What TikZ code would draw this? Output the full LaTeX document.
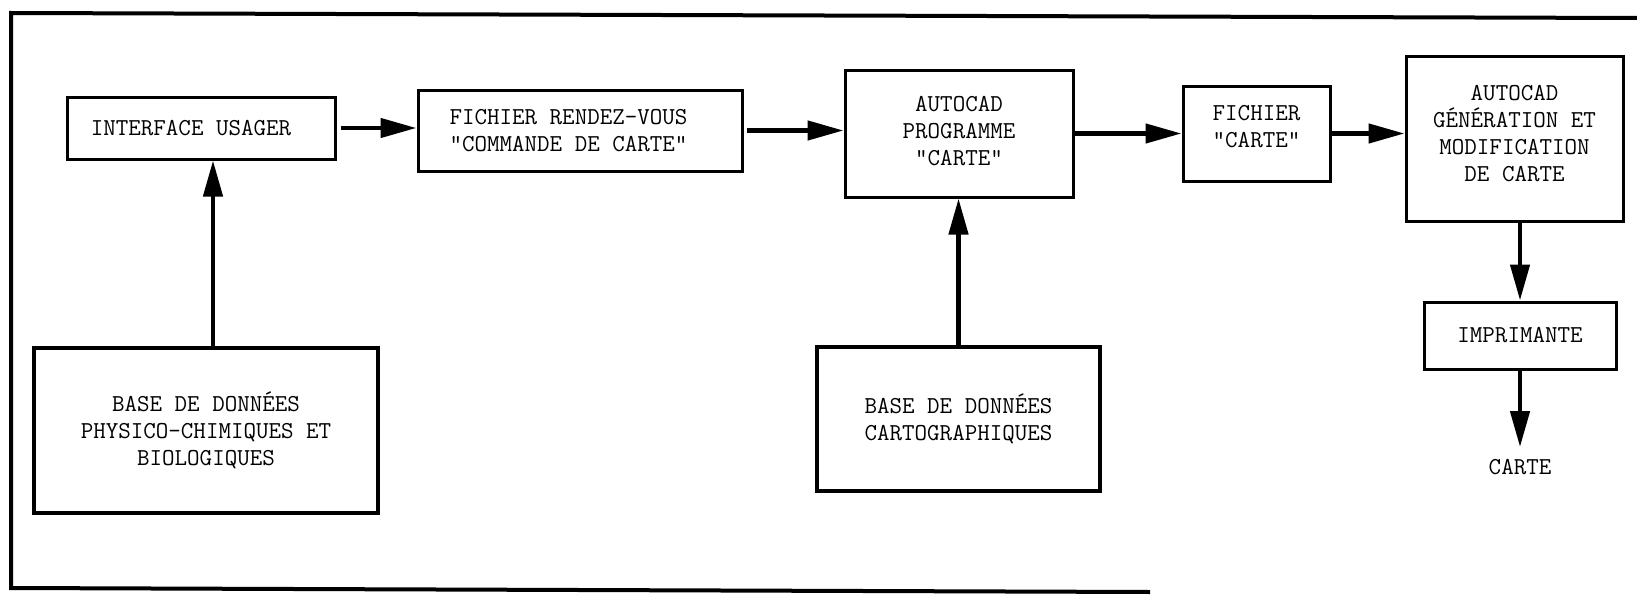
\documentclass[tikz,border=0pt]{standalone}
\usepackage{fontspec}
\usetikzlibrary{arrows.meta}
\begin{document}
\begin{tikzpicture}[x=1pt,y=-1pt,
  box/.style={draw, line width=3pt, inner sep=0pt, align=center, font=\ttfamily\fontsize{24.3}{27}\selectfont},
  dbbox/.style={box, line width=4.5pt},
  arr/.style={line width=4.5pt, -{Triangle[length=36pt,width=19pt]}},
  ]
\useasboundingbox (0,0) rectangle (1637,594);
\draw[line width=4pt] (1637,18) -- (11,13) -- (11,588) -- (1150,592);

\node[box, align=left, minimum width=268pt, minimum height=62pt] (iu) at (201,128) {INTERFACE USAGER\hspace*{20pt}};
\node[box, align=left, minimum width=324pt, minimum height=81pt] (rdv) at (580,130.5) {FICHIER RENDEZ-VOUS\\"COMMANDE DE CARTE"\hspace*{23pt}};
\node[box, minimum width=228pt, minimum height=127pt] (ac) at (959,133.5) {AUTOCAD\\PROGRAMME\\"CARTE"\rule[-6pt]{0pt}{0pt}};
\node[box, minimum width=147pt, minimum height=95pt] (fc) at (1256.5,133.5) {FICHIER\\"CARTE"\rule[-14pt]{0pt}{0pt}};
\node[box, minimum width=217pt, minimum height=164pt] (gen) at (1514.5,139) {AUTOCAD\\GÉNÉRATION ET\\MODIFICATION\\DE CARTE\rule[-12pt]{0pt}{0pt}};
\node[box, minimum width=192pt, minimum height=67pt] (imp) at (1520,335.5) {IMPRIMANTE};
\node[font=\ttfamily\fontsize{24.3}{27}\selectfont, inner sep=12pt] (carte) at (1520,467) {CARTE};
\node[dbbox, minimum width=344pt, minimum height=165pt] (b1) at (206,430.5) {BASE DE DONNÉES\\PHYSICO-CHIMIQUES ET\\BIOLOGIQUES};
\node[dbbox, minimum width=283pt, minimum height=144pt] (b2) at (958.5,419) {BASE DE DONNÉES\\CARTOGRAPHIQUES};

\draw[arr] ([xshift=4pt]iu.east) -- (iu.east -| rdv.west);
\draw[arr] ([xshift=3pt]rdv.east) -- (rdv.east -| ac.west);
\draw[arr] (ac.east) -- (ac.east -| fc.west);
\draw[arr] (fc.east) -- (fc.east -| gen.west);
\draw[arr] (imp.north |- gen.south) -- (imp.north);
\draw[arr] (imp.south) -- (carte.north);
\draw[arr] ([xshift=7pt]b1.north) -- ([xshift=7pt]b1.north |- iu.south);
\draw[arr] (b2.north) -- (b2.north |- ac.south);
\end{tikzpicture}
\end{document}
